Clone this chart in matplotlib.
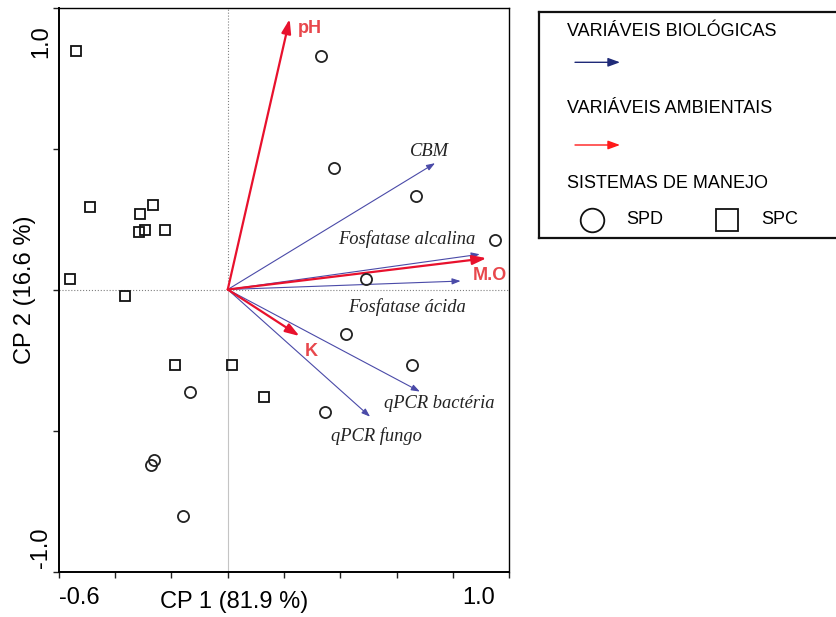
import numpy as np
import matplotlib
matplotlib.use("Agg")
from matplotlib import pyplot as plt

plt.rcParams['font.family'] = ['Liberation Sans', 'DejaVu Sans']

# scores of the samples (CP1, CP2)
spd_x = [0.330, 0.378, 0.668, 0.949, 0.492, 0.422, 0.656, 0.346, -0.135, -0.261, -0.272, -0.160]
spd_y = [0.828, 0.432, 0.333, 0.176, 0.036, -0.159, -0.267, -0.436, -0.365, -0.606, -0.622, -0.802]
spc_x = [-0.540, -0.489, -0.313, -0.266, -0.316, -0.294, -0.223, -0.561, -0.367, -0.188, 0.016, 0.129]
spc_y = [0.846, 0.294, 0.267, 0.300, 0.203, 0.211, 0.211, 0.036, -0.022, -0.267, -0.267, -0.382]

# biological variables (vectors)
bio_names = ['CBM', 'Fosfatase alcalina', 'Fosfatase ácida', 'qPCR bactéria', 'qPCR fungo']
bio_x = [0.737, 0.896, 0.828, 0.683, 0.506]
bio_y = [0.448, 0.125, 0.030, -0.362, -0.451]
bio_lab_x = [0.719, 0.636, 0.636, 0.752, 0.530]
bio_lab_y = [0.489, 0.178, -0.061, -0.404, -0.520]

# environmental variables (vectors)
env_names = ['pH', 'M.O', 'K']
env_x = [0.220, 0.920, 0.255]
env_y = [0.959, 0.111, -0.165]
env_lab_x = [0.293, 0.932, 0.297]
env_lab_y = [0.924, 0.051, -0.220]

blue = '#4a4aa8'
red = '#e8112d'
red_txt = '#e8474c'

fig = plt.figure(figsize=(8.37, 6.17), dpi=100)
ax = fig.add_axes([59/837, 1 - 571.5/617, 450/837, 564/617])
ax.set_xlim(-0.6, 1.0)
ax.set_ylim(-1.0, 1.0)

ax.axhline(0, color='#808080', lw=0.8, ls=':', zorder=1)
ax.axvline(0, ymin=0.5, ymax=1, color='#808080', lw=0.8, ls=':', zorder=1)
ax.axvline(0, ymin=0, ymax=0.5, color='#c4c4c4', lw=0.8, zorder=1)

for i in range(len(bio_names)):
    ax.annotate('', xy=(bio_x[i], bio_y[i]), xytext=(0, 0),
                arrowprops=dict(arrowstyle='-|>,head_length=0.5,head_width=0.18',
                                mutation_scale=10, color=blue, lw=0.8,
                                shrinkA=0, shrinkB=0), zorder=3)
    ax.text(bio_lab_x[i], bio_lab_y[i], bio_names[i], family='Liberation Serif',
            style='italic', fontsize=13.3, ha='center', va='center', color='#222222')

for i in range(len(env_names)):
    ax.annotate('', xy=(env_x[i], env_y[i]), xytext=(0, 0),
                arrowprops=dict(arrowstyle='-|>,head_length=0.6,head_width=0.2',
                                mutation_scale=14, color=red, lw=1.6,
                                shrinkA=0, shrinkB=0), zorder=4)
    ax.text(env_lab_x[i], env_lab_y[i], env_names[i], fontsize=13, weight='bold',
            ha='center', va='center', color=red_txt)

ax.plot(spd_x, spd_y, 'o', ms=8, mfc='none', mec='#222222', mew=1.3, ls='none', zorder=5)
ax.plot(spc_x, spc_y, 's', ms=7.5, mfc='none', mec='#111111', mew=1.3, ls='none', zorder=5)

ax.set_xticks(np.arange(-0.6, 1.01, 0.2))
ax.set_yticks([-1.0, -0.5, 0, 0.5, 1.0])
ax.set_xticklabels([])
ax.set_yticklabels([])
ax.tick_params(direction='out', length=4, width=1, color='#222222')
for s in ['left', 'bottom']:
    ax.spines[s].set_linewidth(1.4)
for s in ['top', 'right']:
    ax.spines[s].set_linewidth(1.0)

ax.text(0.0, -0.028, '-0.6', transform=ax.transAxes, fontsize=17, ha='left', va='top')
ax.text(0.97, -0.028, '1.0', transform=ax.transAxes, fontsize=17, ha='right', va='top')
ax.text(-0.015, 0.969, '1.0', transform=ax.transAxes, fontsize=17, rotation=90,
        ha='right', va='top')
ax.text(-0.015, 0.006, '-1.0', transform=ax.transAxes, fontsize=17, rotation=90,
        ha='right', va='bottom')
fig.text(234/837, 1 - 602/617, 'CP 1 (81.9 %)', fontsize=17, ha='center', va='center')
fig.text(25/837, 1 - 290/617, 'CP 2 (16.6 %)', fontsize=17, rotation=90,
         ha='center', va='center')

# legend box (right edge runs off the figure)
lw_px, lh_px = 320, 226.3
lax = fig.add_axes([539/837, 1 - 238/617, lw_px/837, lh_px/617])
lax.set_xlim(0, lw_px)
lax.set_ylim(lh_px, 0)
lax.set_xticks([])
lax.set_yticks([])
for s in lax.spines.values():
    s.set_linewidth(1.6)
    s.set_color('#111111')

lfs = 13
lax.text(27.7, 20, 'VARIÁVEIS BIOLÓGICAS', fontsize=lfs, va='center', ha='left')
lax.annotate('', xy=(81, 50.6), xytext=(36, 50.6),
             arrowprops=dict(arrowstyle='-|>,head_length=0.6,head_width=0.22',
                             mutation_scale=12, color='#1f2a78', lw=1.0,
                             shrinkA=0, shrinkB=0))
lax.text(27.7, 96.6, 'VARIÁVEIS AMBIENTAIS', fontsize=lfs, va='center', ha='left')
lax.annotate('', xy=(81, 133.3), xytext=(36, 133.3),
             arrowprops=dict(arrowstyle='-|>,head_length=0.6,head_width=0.22',
                             mutation_scale=12, color='#ff1a1a', lw=1.0,
                             shrinkA=0, shrinkB=0))
lax.text(27.7, 171.6, 'SISTEMAS DE MANEJO', fontsize=lfs, va='center', ha='left')
lax.plot([52.7], [208.3], 'o', ms=17, mfc='none', mec='#111111', mew=1.3)
lax.text(87.7, 208.3, 'SPD', fontsize=lfs, va='center', ha='left')
lax.plot([188.3], [208.3], 's', ms=16, mfc='none', mec='#111111', mew=1.3)
lax.text(222.7, 208.3, 'SPC', fontsize=lfs, va='center', ha='left')

fig.savefig('out.png', dpi=100)
